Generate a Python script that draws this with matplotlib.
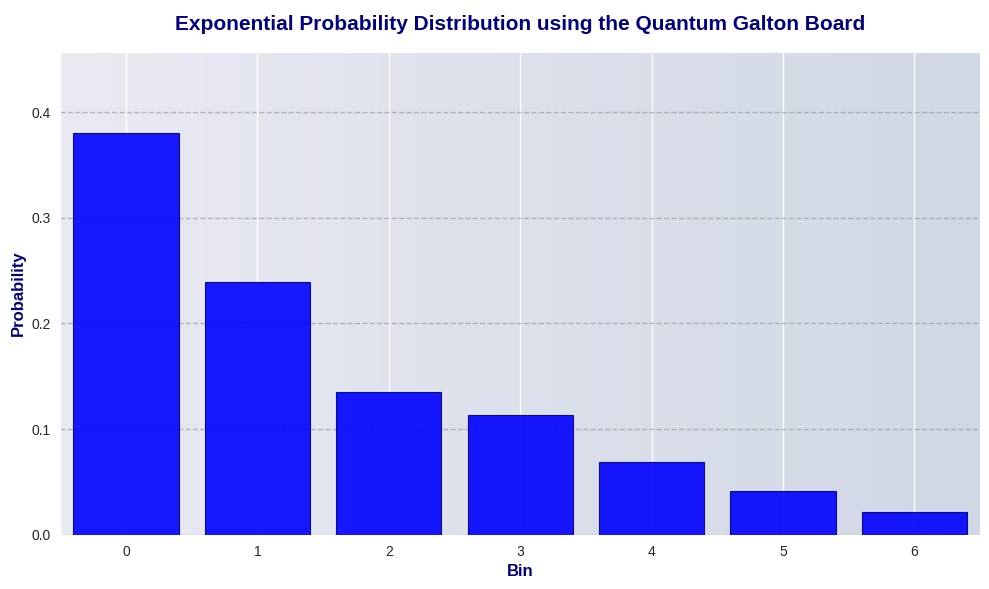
import matplotlib
matplotlib.use("Agg")
import matplotlib.pyplot as plt
import seaborn as sns
import numpy as np

bins = [0, 1, 2, 3, 4, 5, 6]
probs = [0.380, 0.239, 0.135, 0.1135, 0.069, 0.0416, 0.0217]

sns.set_style("darkgrid")
plt.rcParams['font.family'] = ['Arial', 'Liberation Sans', 'DejaVu Sans']

fig, ax = plt.subplots(figsize=(9.89, 5.89), dpi=100)
fig.subplots_adjust(left=0.061, right=0.991, top=0.912, bottom=0.092)

grad = np.linspace(0, 1, 256).reshape(1, -1)
from matplotlib.colors import LinearSegmentedColormap
cmap = LinearSegmentedColormap.from_list("bg", ["#eaeaf2", "#d0d7e5"])
ax.imshow(grad, extent=[0, 1, 0, 1], transform=ax.transAxes, aspect='auto', cmap=cmap, zorder=0)

ax.bar(bins, probs, width=0.8, color='blue', alpha=0.9, edgecolor='navy', linewidth=0.8, zorder=3)
ax.set_xlim(-0.5, 6.5)
ax.set_ylim(0, 0.457)
ax.set_xticks(bins)
ax.grid(axis='x', color='white', linewidth=1, zorder=1)
ax.grid(axis='y', color='gray', linestyle='--', alpha=0.5, linewidth=1, zorder=1)
ax.set_axisbelow(True)
ax.set_xlabel("Bin", fontsize=12, fontweight='bold', color='navy')
ax.set_ylabel("Probability", fontsize=12, fontweight='bold', color='navy')
ax.set_title("Exponential Probability Distribution using the Quantum Galton Board",
             fontsize=15, fontweight='bold', color='navy', pad=16)
fig.savefig("out.png", dpi=100)
